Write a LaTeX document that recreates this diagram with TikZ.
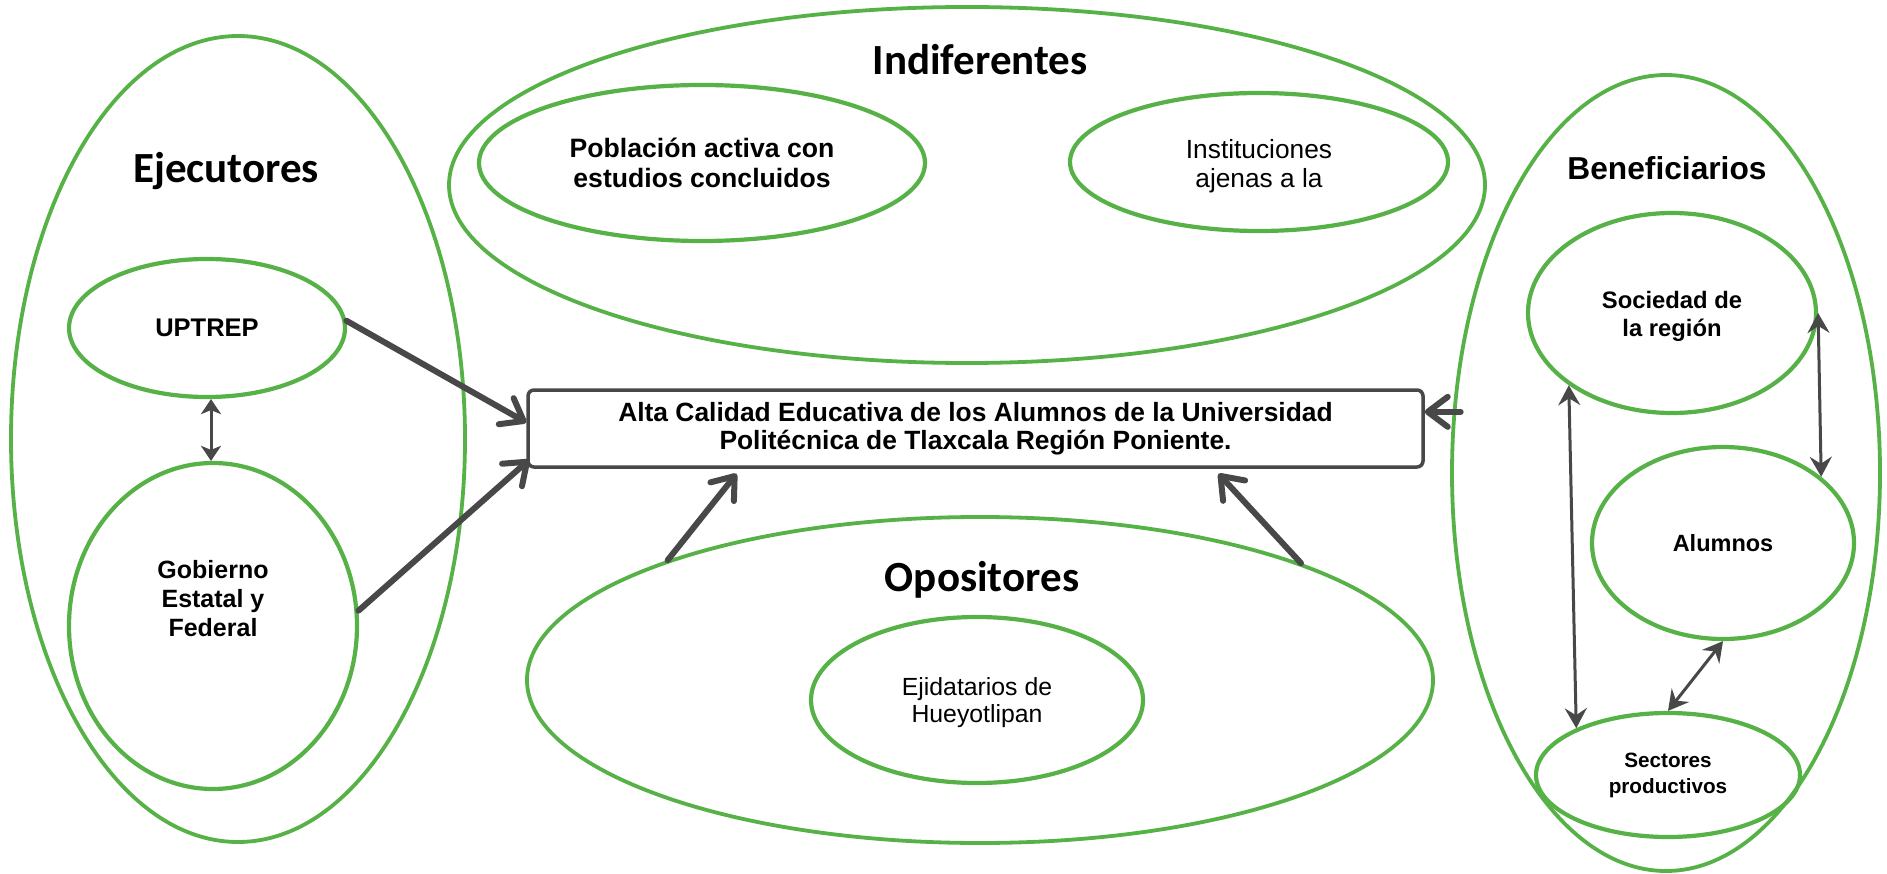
\documentclass[tikz,border=0pt]{standalone}
\usepackage{fontspec}
\setmainfont{Liberation Sans}
\newfontfamily\califont{Carlito}
\usetikzlibrary{arrows.meta,shapes.geometric,calc}
\definecolor{grn}{RGB}{86,178,70}
\definecolor{dgray}{RGB}{72,72,72}
\begin{document}
\begin{tikzpicture}[x=1pt,y=-1pt,
  ell/.style={ellipse, draw=grn, line width=4.2pt, inner sep=0pt, align=center},
  outerell/.style={ell, line width=3.8pt},
  title/.style={inner sep=0pt, font=\califont\bfseries\fontsize{43}{50}\selectfont},
  txt/.style={inner sep=0pt, align=center},
  bigarrow/.style={draw=dgray, line width=6pt, line cap=round, -{Straight Barb[length=20pt,width=30pt,round]}},
  dbl/.style={draw=dgray, line width=3pt, {Stealth[length=20pt,width=22pt,inset=7pt]}-{Stealth[length=20pt,width=22pt,inset=7pt]}},
  smalldbl/.style={draw=dgray, line width=3pt, {Stealth[length=15pt,width=20pt,inset=4pt]}-{Stealth[length=15pt,width=20pt,inset=4pt]}},
  goalbox/.style={draw=dgray, line width=3.5pt, rounded corners=6pt, inner sep=0pt, align=center,
    font=\bfseries\fontsize{26.4}{28}\selectfont}
]
\useasboundingbox[fill=white] (0,0) rectangle (1887,874);

% Ejecutores
\node[outerell, minimum width=454pt, minimum height=806pt] (eje) at (238,439) {};
\node[title] (ejet) at (226,171) {Ejecutores};
\node[ell, minimum width=276pt, minimum height=138pt, font=\bfseries\fontsize{25.5}{29}\selectfont] (upt) at (207,328) {UPTREP};
\node[ell, minimum width=288pt, minimum height=326pt] (gob) at (213,626) {};
\node[txt, font=\bfseries\fontsize{25}{29}\selectfont] (gobt) at (213,599) {Gobierno\\Estatal y\\Federal};

% Indiferentes
\node[outerell, minimum width=1036pt, minimum height=356pt] (ind) at (967,185) {};
\node[title] (indt) at (980,60) {Indiferentes};
\node[ell, minimum width=446pt, minimum height=156pt, font=\bfseries\fontsize{26.6}{30}\selectfont] (pob) at (702,163) {Población activa con\\estudios concluidos};
\node[ell, minimum width=378pt, minimum height=138pt] (ins) at (1259,162) {};
\node[txt, font=\fontsize{26.3}{29}\selectfont] (inst) at (1259,166) {Instituciones\\ajenas a la};

% Goal
\node[goalbox, minimum width=895pt, minimum height=77pt] (box) at (975.5,428.5) {Alta Calidad Educativa de los Alumnos de la Universidad\\Politécnica de Tlaxcala Región Poniente.};

% Opositores
\node[outerell, minimum width=906pt, minimum height=326pt] (opo) at (980,680) {};
\node[title] (opot) at (982,580) {Opositores};
\node[ell, minimum width=332pt, minimum height=166pt] (eji) at (977,700) {};
\node[txt, font=\fontsize{24.8}{27}\selectfont] (ejit) at (977,703) {Ejidatarios de\\Hueyotlipan};

% Beneficiarios
\node[outerell, minimum width=428pt, minimum height=796pt] (ben) at (1666,473) {};
\node[inner sep=0pt, font=\bfseries\fontsize{31.7}{36}\selectfont] (bent) at (1667,168) {Beneficiarios};
\node[ell, minimum width=288pt, minimum height=200pt] (soc) at (1672,313) {};
\node[txt, font=\bfseries\fontsize{23.8}{28}\selectfont] (soct) at (1672,316) {Sociedad de\\la región};
\node[ell, minimum width=262pt, minimum height=192pt, font=\bfseries\fontsize{23.5}{28}\selectfont] (alu) at (1723,543) {Alumnos};
\node[ell, minimum width=264pt, minimum height=124pt, font=\bfseries\fontsize{20.7}{26}\selectfont] (sec) at (1668,775) {Sectores\\productivos};

% Arrows to goal
\draw[bigarrow] (upt.3) -- ([yshift=6pt]box.west);
\draw[bigarrow] (gob.6) -- ([xshift=3pt,yshift=9pt]box.south west);
\draw[bigarrow] (opo.159) -- ([xshift=-239pt,yshift=-5pt]box.south);
\draw[bigarrow] (opo.20) -- ([xshift=243pt,yshift=-5pt]box.south);
\draw[bigarrow] ([xshift=8pt]ben.164) -- (ben.164 -| box.east);

% Double arrows
\draw[smalldbl] ([xshift=4pt]upt.south) -- ([xshift=-2pt]gob.north);
\draw[dbl] (soc.east) -- (alu.34);
\draw[dbl] (soc.215) -- (sec.153);
\draw[dbl] (alu.south) -- (sec.north);
\end{tikzpicture}
\end{document}
